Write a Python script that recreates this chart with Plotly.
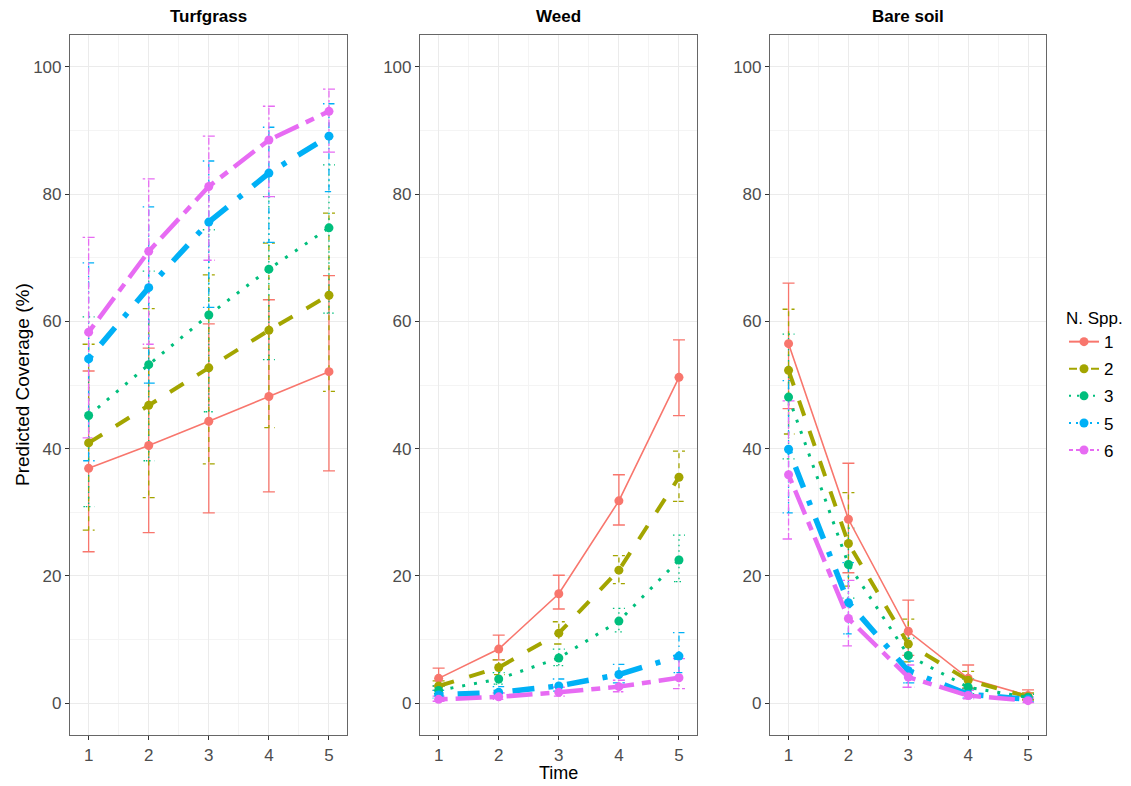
import plotly.graph_objects as go

times = [1, 2, 3, 4, 5]
panels = ["Turfgrass", "Weed", "Bare soil"]
species = ["1", "2", "3", "5", "6"]

# Turfgrass
turf_mean = {
    "1": [36.9, 40.5, 44.3, 48.2, 52.1],
    "2": [40.9, 46.8, 52.7, 58.6, 64.1],
    "3": [45.2, 53.2, 61.0, 68.2, 74.7],
    "5": [54.1, 65.3, 75.6, 83.3, 89.1],
    "6": [58.3, 71.0, 81.2, 88.5, 93.0],
}
turf_lo = {
    "1": [23.8, 26.8, 29.9, 33.2, 36.5],
    "2": [27.2, 32.3, 37.6, 43.3, 49.0],
    "3": [30.9, 38.1, 45.8, 54.0, 61.3],
    "5": [38.1, 50.3, 62.2, 72.4, 80.4],
    "6": [41.7, 56.4, 69.6, 79.6, 86.6],
}
turf_hi = {
    "1": [52.2, 55.8, 59.6, 63.4, 67.2],
    "2": [56.4, 62.0, 67.3, 72.3, 77.0],
    "3": [60.7, 67.9, 74.4, 79.6, 84.6],
    "5": [69.2, 78.0, 85.2, 90.5, 94.2],
    "6": [73.2, 82.4, 89.1, 93.8, 96.5],
}

# Weed
weed_mean = {
    "1": [3.9, 8.5, 17.2, 31.8, 51.2],
    "2": [2.7, 5.6, 11.0, 20.9, 35.5],
    "3": [2.0, 3.8, 7.1, 12.9, 22.5],
    "5": [1.3, 1.7, 2.7, 4.5, 7.4],
    "6": [0.6, 1.0, 1.7, 2.6, 4.0],
}
weed_lo = {
    "1": [2.7, 6.8, 14.8, 28.0, 45.2],
    "2": [2.0, 4.5, 9.3, 18.8, 31.7],
    "3": [1.5, 3.0, 5.9, 11.2, 19.1],
    "5": [0.8, 1.1, 1.9, 3.2, 4.8],
    "6": [0.3, 0.6, 1.1, 1.8, 2.3],
}
weed_hi = {
    "1": [5.5, 10.7, 20.1, 35.9, 57.1],
    "2": [3.5, 6.8, 12.8, 23.2, 39.6],
    "3": [2.7, 4.8, 8.5, 14.9, 26.4],
    "5": [2.0, 2.6, 3.8, 6.1, 11.1],
    "6": [1.1, 1.6, 2.5, 3.6, 7.0],
}

# Bare soil
bare_mean = {
    "1": [56.5, 28.9, 11.3, 3.9, 1.2],
    "2": [52.3, 25.1, 9.3, 3.6, 1.0],
    "3": [48.1, 21.8, 7.5, 2.5, 0.9],
    "5": [39.9, 15.8, 5.1, 1.4, 0.6],
    "6": [35.9, 13.3, 4.1, 1.2, 0.4],
}
bare_lo = {
    "1": [46.3, 20.5, 7.5, 2.4, 0.6],
    "2": [42.3, 18.4, 6.5, 2.3, 0.5],
    "3": [38.4, 16.5, 5.2, 1.5, 0.4],
    "5": [29.9, 10.9, 3.2, 0.8, 0.2],
    "6": [25.8, 9.0, 2.5, 0.7, 0.1],
}
bare_hi = {
    "1": [66.0, 37.7, 16.2, 6.0, 2.1],
    "2": [61.9, 33.1, 13.2, 5.0, 1.6],
    "3": [58.0, 27.5, 10.2, 3.8, 1.4],
    "5": [50.7, 22.1, 6.6, 2.2, 1.0],
    "6": [47.5, 19.3, 6.0, 2.0, 0.8],
}

data = [
    (turf_mean, turf_lo, turf_hi),
    (weed_mean, weed_lo, weed_hi),
    (bare_mean, bare_lo, bare_hi),
]

colors = {"1": "#F8766D", "2": "#A3A500", "3": "#00BF7D", "5": "#00B0F6", "6": "#E76BF3"}
widths = {"1": 1.6, "2": 4.0, "3": 3.0, "5": 5.5, "6": 4.5}
dashes = {
    "1": "solid",
    "2": "16px,16px",
    "3": "3px,9px",
    "5": "5px,14px,22px,14px",
    "6": "9px,8px,26px,8px",
}
err_dashes = {
    "1": "solid",
    "2": "5px,5px",
    "3": "1.5px,4px",
    "5": "1.5px,4px,6px,4px",
    "6": "2.5px,2.5px,7px,2.5px",
}
leg_dashes = {
    "1": "solid",
    "2": "8px,3px",
    "3": "2px,6px",
    "5": "2px,5px",
    "6": "4px,3px",
}
CAP = 0.1  # half cap width in data units

FONT = "Liberation Sans, Arial, Helvetica, sans-serif"

fig = go.Figure()

for p, (mean, lo, hi) in enumerate(data):
    xa = "x" if p == 0 else f"x{p+1}"
    ya = "y" if p == 0 else f"y{p+1}"
    # error bars (ggplot-style single path per bar)
    for s in species:
        ex, ey = [], []
        for t, l, h in zip(times, lo[s], hi[s]):
            ex += [t - CAP, t + CAP, t, t, t - CAP, t + CAP, None]
            ey += [h, h, h, l, l, l, None]
        fig.add_trace(go.Scatter(
            x=ex, y=ey, xaxis=xa, yaxis=ya, mode="lines",
            line=dict(color=colors[s], width=1.3, dash=err_dashes[s]),
            showlegend=False, hoverinfo="skip", connectgaps=False,
        ))
    for s in species:
        fig.add_trace(go.Scatter(
            x=times, y=mean[s], xaxis=xa, yaxis=ya,
            mode="lines+markers",
            name=s, legendgroup=s, showlegend=False,
            line=dict(color=colors[s], width=widths[s], dash=dashes[s]),
            marker=dict(color=colors[s], size=9),
        ))

# legend entries
for s in species:
    fig.add_trace(go.Scatter(
        x=[None], y=[None], mode="lines+markers", name=s, legendgroup=s,
        line=dict(color=colors[s], width=2, dash=leg_dashes[s]),
        marker=dict(color=colors[s], size=9),
    ))

x_domains = [[70/1131, 347/1131], [420/1131, 697/1131], [770/1131, 1046/1131]]
y_domain = [1 - 735/786, 1 - 35/786]

axis_common = dict(
    showline=True, mirror=True, linecolor="#666666", linewidth=1.2,
    showgrid=True, gridcolor="#EBEBEB", gridwidth=1.2,
    zeroline=False, ticks="outside", ticklen=4, tickcolor="#333333",
    tickfont=dict(family=FONT, size=17, color="#4D4D4D"),
)

layout = dict(
    width=1131, height=786,
    margin=dict(l=0, r=0, t=0, b=0),
    paper_bgcolor="white", plot_bgcolor="white",
    font=dict(family=FONT, color="black"),
    legend=dict(
        x=1064/1131, y=1 - 302/786, xanchor="left", yanchor="top",
        title=dict(text="N. Spp.", font=dict(family=FONT, size=17)),
        font=dict(family=FONT, size=17), tracegroupgap=2, itemwidth=30,
        bgcolor="rgba(0,0,0,0)",
    ),
    showlegend=True,
)
for p in range(3):
    xk = "xaxis" if p == 0 else f"xaxis{p+1}"
    yk = "yaxis" if p == 0 else f"yaxis{p+1}"
    layout[xk] = dict(axis_common, domain=x_domains[p], range=[0.69, 5.3],
                      tickmode="array", tickvals=times, ticktext=[str(t) for t in times],
                      anchor="y" if p == 0 else f"y{p+1}",
                      minor=dict(tickmode="array", tickvals=[1.5, 2.5, 3.5, 4.5],
                                 showgrid=True, gridcolor="#F4F4F4", gridwidth=1, ticks=""))
    layout[yk] = dict(axis_common, domain=y_domain, range=[-5, 105],
                      tickmode="array", tickvals=[0, 20, 40, 60, 80, 100],
                      anchor="x" if p == 0 else f"x{p+1}",
                      minor=dict(tickmode="array", tickvals=[10, 30, 50, 70, 90],
                                 showgrid=True, gridcolor="#F4F4F4", gridwidth=1, ticks=""))

fig.update_layout(**layout)

centers = [(x0 + x1) / 2 for x0, x1 in x_domains]
for p, name in enumerate(panels):
    fig.add_annotation(x=centers[p], y=1 - 17/786, xref="paper", yref="paper",
                       xanchor="center", yanchor="middle",
                       text=f"<b>{name}</b>", showarrow=False,
                       font=dict(family=FONT, size=17, color="black"))
fig.add_annotation(x=centers[1], y=1 - 773/786, xref="paper", yref="paper",
                   xanchor="center", yanchor="middle",
                   text="Time", showarrow=False,
                   font=dict(family=FONT, size=18, color="black"))
fig.add_annotation(x=22/1131, y=1 - 385/786, xref="paper", yref="paper",
                   xanchor="center", yanchor="middle",
                   text="Predicted Coverage (%)", showarrow=False, textangle=-90,
                   font=dict(family=FONT, size=19, color="black"))

fig.write_html("out.html")
